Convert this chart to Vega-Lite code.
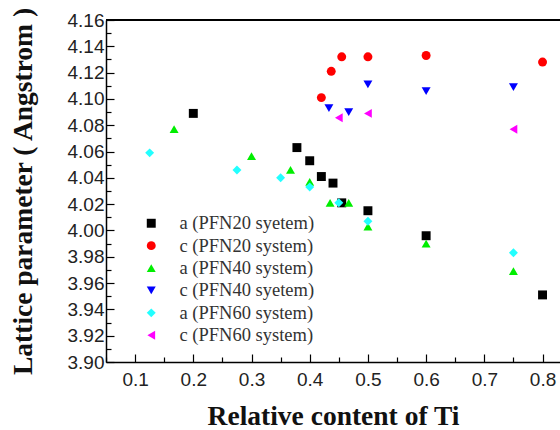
{
  "$schema": "https://vega.github.io/schema/vega-lite/v6.json",
  "width": 454,
  "height": 342,
  "autosize": {"type": "none"},
  "padding": {"left": 106, "top": 20, "right": 0, "bottom": 68},
  "background": "white",
  "config": {
    "view": {"stroke": null},
    "axis": {
      "domainColor": "black",
      "domainWidth": 1.5,
      "tickColor": "black",
      "tickWidth": 1.2,
      "labelFont": "Liberation Sans",
      "labelFontSize": 19,
      "labelColor": "#222",
      "labelOverlap": false,
      "titleFont": "Liberation Serif",
      "titleFontWeight": "bold",
      "titleFontSize": 27.5,
      "titleColor": "#111",
      "grid": false
    }
  },
  "data": {
    "values": [
      {"x": 0.2, "y": 4.089, "s": "a (PFN20 syetem)"},
      {"x": 0.378, "y": 4.063, "s": "a (PFN20 syetem)"},
      {"x": 0.4, "y": 4.053, "s": "a (PFN20 syetem)"},
      {"x": 0.42, "y": 4.041, "s": "a (PFN20 syetem)"},
      {"x": 0.44, "y": 4.036, "s": "a (PFN20 syetem)"},
      {"x": 0.455, "y": 4.021, "s": "a (PFN20 syetem)"},
      {"x": 0.5, "y": 4.015, "s": "a (PFN20 syetem)"},
      {"x": 0.6, "y": 3.996, "s": "a (PFN20 syetem)"},
      {"x": 0.8, "y": 3.951, "s": "a (PFN20 syetem)"},
      {"x": 0.42, "y": 4.101, "s": "c (PFN20 system)"},
      {"x": 0.437, "y": 4.121, "s": "c (PFN20 system)"},
      {"x": 0.455, "y": 4.132, "s": "c (PFN20 system)"},
      {"x": 0.5, "y": 4.132, "s": "c (PFN20 system)"},
      {"x": 0.6, "y": 4.133, "s": "c (PFN20 system)"},
      {"x": 0.8, "y": 4.128, "s": "c (PFN20 system)"},
      {"x": 0.167, "y": 4.077, "s": "a (PFN40 system)"},
      {"x": 0.3, "y": 4.0565, "s": "a (PFN40 system)"},
      {"x": 0.367, "y": 4.046, "s": "a (PFN40 system)"},
      {"x": 0.4, "y": 4.037, "s": "a (PFN40 system)"},
      {"x": 0.435, "y": 4.021, "s": "a (PFN40 system)"},
      {"x": 0.467, "y": 4.021, "s": "a (PFN40 system)"},
      {"x": 0.5, "y": 4.003, "s": "a (PFN40 system)"},
      {"x": 0.6, "y": 3.99, "s": "a (PFN40 system)"},
      {"x": 0.75, "y": 3.969, "s": "a (PFN40 system)"},
      {"x": 0.433, "y": 4.093, "s": "c (PFN40 syetem)"},
      {"x": 0.467, "y": 4.09, "s": "c (PFN40 syetem)"},
      {"x": 0.5, "y": 4.111, "s": "c (PFN40 syetem)"},
      {"x": 0.6, "y": 4.106, "s": "c (PFN40 syetem)"},
      {"x": 0.75, "y": 4.109, "s": "c (PFN40 syetem)"},
      {"x": 0.125, "y": 4.059, "s": "a (PFN60 system)"},
      {"x": 0.275, "y": 4.046, "s": "a (PFN60 system)"},
      {"x": 0.35, "y": 4.04, "s": "a (PFN60 system)"},
      {"x": 0.4, "y": 4.033, "s": "a (PFN60 system)"},
      {"x": 0.45, "y": 4.021, "s": "a (PFN60 system)"},
      {"x": 0.5, "y": 4.007, "s": "a (PFN60 system)"},
      {"x": 0.75, "y": 3.983, "s": "a (PFN60 system)"},
      {"x": 0.45, "y": 4.0857, "s": "c (PFN60 system)"},
      {"x": 0.5, "y": 4.089, "s": "c (PFN60 system)"},
      {"x": 0.75, "y": 4.077, "s": "c (PFN60 system)"}
    ]
  },
  "layer": [
    {
      "mark": {"type": "point", "filled": true, "opacity": 1, "size": 80},
      "encoding": {
        "x": {
          "field": "x",
          "type": "quantitative",
          "scale": {"domain": [0.05, 0.83], "nice": false, "zero": false},
          "axis": {
            "title": "Relative content of Ti",
            "values": [0.05, 0.1, 0.15, 0.2, 0.25, 0.3, 0.35, 0.4, 0.45, 0.5, 0.55, 0.6, 0.65, 0.7, 0.75, 0.8],
            "labelExpr": "round(datum.value*100) % 10 == 0 ? format(datum.value, '.1f') : ''",
            "tickSize": {"condition": {"test": "round(datum.value*100) % 10 == 0", "value": -8}, "value": -5},
            "labelPadding": 16,
            "titlePadding": 10,
            "labelFlush": false,
            "labelOverlap": false
          }
        },
        "y": {
          "field": "y",
          "type": "quantitative",
          "scale": {"domain": [3.9, 4.16], "nice": false, "zero": false},
          "axis": {
            "title": "Lattice parameter ( Angstrom )",
            "values": [3.9, 3.91, 3.92, 3.93, 3.94, 3.95, 3.96, 3.97, 3.98, 3.99, 4.0, 4.01, 4.02, 4.03, 4.04, 4.05, 4.06, 4.07, 4.08, 4.09, 4.1, 4.11, 4.12, 4.13, 4.14, 4.15, 4.16],
            "labelExpr": "round(datum.value*100) % 2 == 0 ? format(datum.value, '.2f') : ''",
            "tickSize": {"condition": {"test": "round(datum.value*100) % 2 == 0", "value": -8}, "value": -5},
            "labelPadding": 10,
            "titlePadding": 30,
            "labelFlush": false,
            "labelOverlap": false
          }
        },
        "color": {
          "field": "s",
          "type": "nominal",
          "scale": {
            "domain": ["a (PFN20 syetem)", "c (PFN20 system)", "a (PFN40 system)", "c (PFN40 syetem)", "a (PFN60 system)", "c (PFN60 system)"],
            "range": ["#000000", "#ff0000", "#00ee00", "#0000ff", "#22ffff", "#ff00ff"]
          },
          "legend": {
            "title": null,
            "orient": "none",
            "legendX": 36,
            "legendY": 194,
            "labelFont": "Liberation Serif",
            "labelFontSize": 18.5,
            "labelColor": "#333",
            "labelOffset": 19,
            "rowPadding": 3.4,
            "symbolSize": 80,
            "symbolStrokeWidth": 0
          }
        },
        "shape": {
          "field": "s",
          "type": "nominal",
          "scale": {
            "domain": ["a (PFN20 syetem)", "c (PFN20 system)", "a (PFN40 system)", "c (PFN40 syetem)", "a (PFN60 system)", "c (PFN60 system)"],
            "range": ["square", "circle", "triangle-up", "triangle-down", "diamond", "triangle-left"]
          }
        }
      }
    },
    {
      "mark": {"type": "rule", "color": "black", "strokeWidth": 1.5},
      "encoding": {
        "y": {
          "datum": 4.16,
          "type": "quantitative",
          "axis": {
            "title": "Lattice parameter ( Angstrom )",
            "values": [3.9, 3.91, 3.92, 3.93, 3.94, 3.95, 3.96, 3.97, 3.98, 3.99, 4.0, 4.01, 4.02, 4.03, 4.04, 4.05, 4.06, 4.07, 4.08, 4.09, 4.1, 4.11, 4.12, 4.13, 4.14, 4.15, 4.16],
            "labelExpr": "round(datum.value*100) % 2 == 0 ? format(datum.value, '.2f') : ''",
            "tickSize": {"condition": {"test": "round(datum.value*100) % 2 == 0", "value": -8}, "value": -5},
            "labelPadding": 10,
            "titlePadding": 30,
            "labelFlush": false,
            "labelOverlap": false
          }
        }
      }
    }
  ]
}
